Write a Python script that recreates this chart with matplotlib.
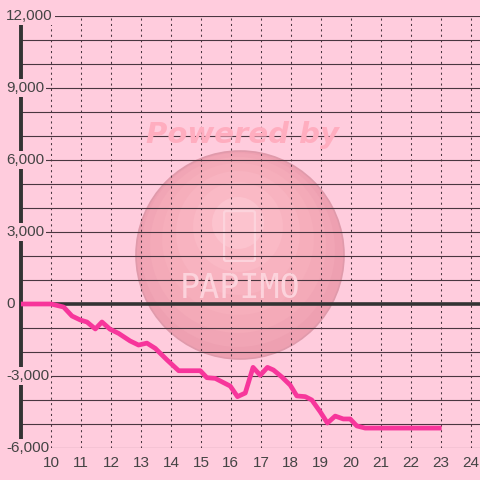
import matplotlib
matplotlib.use("Agg")
import matplotlib.pyplot as plt
import matplotlib.patches as mpatches
import matplotlib.transforms as mtransforms

# hours of day vs running total
hours = [9.0, 10.0, 10.42, 10.7, 10.98, 11.2, 11.48, 11.7, 11.97, 12.25, 12.64,
         12.92, 13.2, 13.48, 13.87, 14.26, 14.98, 15.2, 15.48, 15.98, 16.22,
         16.48, 16.74, 16.98, 17.22, 17.42, 17.7, 17.98, 18.2, 18.48, 18.7,
         18.98, 19.22, 19.48, 19.75, 19.98, 20.2, 20.48, 23.03]
values = [0, 0, -125, -500, -667, -750, -1040, -750, -1050, -1220, -1540,
          -1710, -1630, -1850, -2330, -2780, -2780, -3070, -3100, -3420, -3860,
          -3710, -2640, -2970, -2640, -2750, -3040, -3380, -3830, -3860, -4000,
          -4490, -4960, -4670, -4790, -4790, -5080, -5170, -5170]
x_ticks = list(range(10, 25))
y_labels = [12000, 9000, 6000, 3000, 0, -3000, -6000]

bg = "#FFCCDD"
grid_col = "#4a3640"
txt_col = "#444444"
line_col = "#F7369B"

fig = plt.figure(figsize=(4.8, 4.8), dpi=100)
fig.patch.set_facecolor(bg)
ax = fig.add_axes([21 / 480, 32 / 480, 1 - 21 / 480, 432 / 480])
ax.set_facecolor(bg)
ax.set_xlim(9.0, 24.31)
ax.set_ylim(-6000, 12000)

# grid
for v in range(-6000, 12001, 1000):
    if v == 0:
        continue
    ax.axhline(v, color=grid_col, lw=0.8, zorder=1)
for h in x_ticks:
    ax.axvline(h, color=grid_col, lw=0.75, ls=(0, (2, 3.2)), zorder=1)
ax.axhline(0, color="#333333", lw=2.6, zorder=2)

for sp in ["top", "right", "bottom"]:
    ax.spines[sp].set_visible(False)
ax.spines["left"].set_color("#333333")
ax.spines["left"].set_linewidth(2.8)

ax.set_yticks([])
ax.set_xticks(x_ticks)
ax.set_xticklabels([str(h) for h in x_ticks])
ax.tick_params(axis="x", length=0, pad=6, labelsize=11, labelcolor=txt_col)
for lab in ax.get_xticklabels():
    lab.set_fontfamily("Liberation Sans")

# watermark (under the grid)
ft = fig.transFigure
circ = mpatches.Circle((240 / 480, 1 - 255 / 480), 104 / 480, transform=ft,
                       facecolor="#EEA0B1", edgecolor="#E09AAB", lw=1.2,
                       zorder=0.3)
ax.add_artist(circ)
for r, dy, col in [(97, -5, "#F1A5B5"), (88, -10, "#F4AAB8"), (76, -16, "#F6AEBB"),
                   (62, -22, "#F8B3C0"), (45, -28, "#FAB9C5"), (26, -32, "#FCC3CE")]:
    c = mpatches.Circle((238 / 480, 1 - (255 + dy) / 480), r / 480, transform=ft,
                        facecolor=col, edgecolor="none", zorder=0.4)
    ax.add_artist(c)
phone = mpatches.FancyBboxPatch((226 / 480, 1 - 259 / 480), 27 / 480, 46 / 480,
                                boxstyle="round,pad=0.004", transform=ft,
                                facecolor="none", edgecolor="#FCD3DC", lw=1.6,
                                zorder=0.5)
ax.add_artist(phone)
fig.text(240 / 480, 1 - 289 / 480, "PAPIMO", ha="center", va="center",
         fontsize=24, color="#FCD3DC", family="DejaVu Sans Mono", zorder=0.5)
fig.text(242 / 480, 1 - 135 / 480, "Powered by", ha="center", va="center",
         fontsize=21, fontweight="bold", fontstyle="italic", color="#FFADBF",
         family="DejaVu Sans", zorder=0.5)

ax.plot(hours, values, color=line_col, lw=3.4, solid_joinstyle="round",
        solid_capstyle="butt", zorder=5)

# y labels with background boxes covering the spine
trans = mtransforms.blended_transform_factory(fig.transFigure, ax.transData)
for v in y_labels:
    fig.text(6 / 480, v, f"{v:,}", transform=trans, ha="left", va="center",
             fontsize=11, color=txt_col, family="Liberation Sans", zorder=6,
             bbox=dict(facecolor=bg, edgecolor="none", pad=1.5))

fig.savefig("out.png", dpi=100, facecolor=bg)
